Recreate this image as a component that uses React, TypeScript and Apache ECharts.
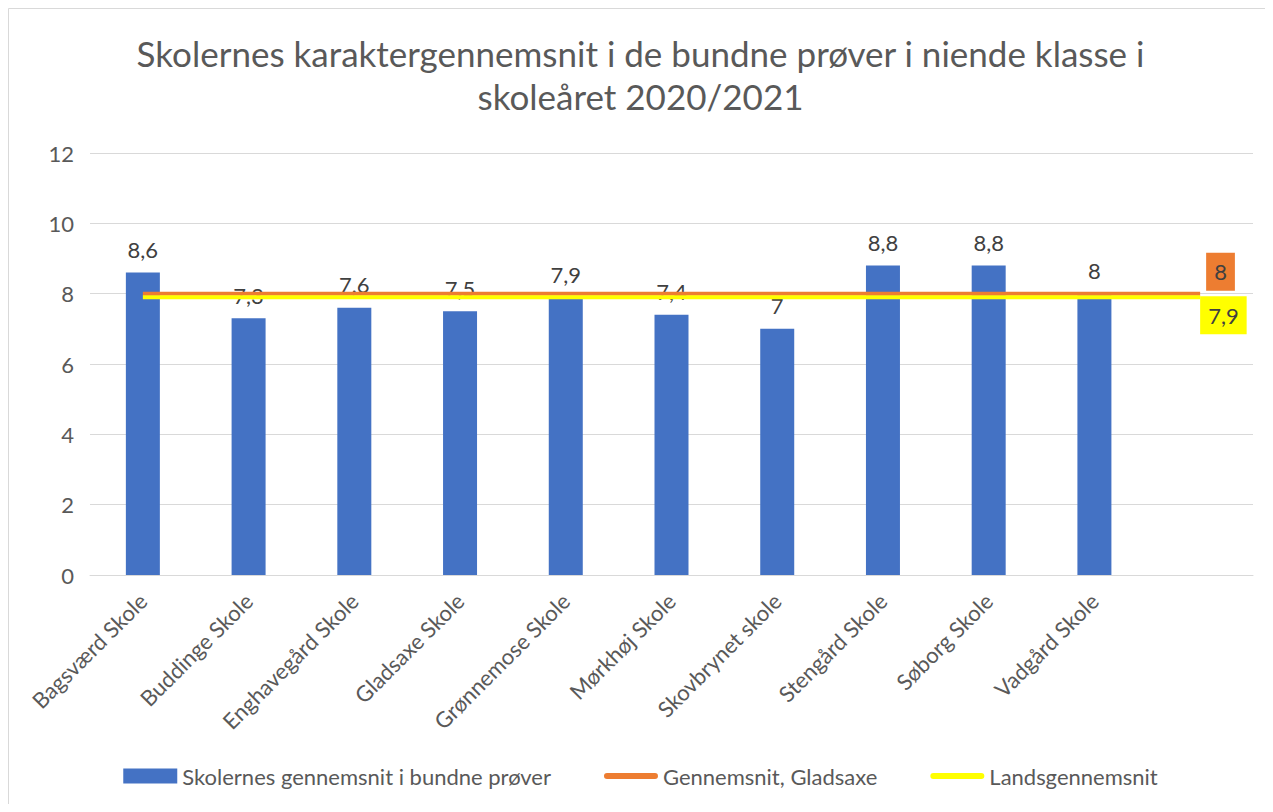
import React, { useEffect, useRef } from "react";
import * as echarts from "echarts";

const titleText = "Skolernes karaktergennemsnit i de bundne prøver i niende klasse i\nskoleåret 2020/2021";
const categories = [
  "Bagsværd Skole",
  "Buddinge Skole",
  "Enghavegård Skole",
  "Gladsaxe Skole",
  "Grønnemose Skole",
  "Mørkhøj Skole",
  "Skovbrynet skole",
  "Stengård Skole",
  "Søborg Skole",
  "Vadgård Skole",
  "",
];
const schoolValues = [8.6, 7.3, 7.6, 7.5, 7.9, 7.4, 7.0, 8.8, 8.8, 8.0];
const gladsaxeAvg = [8, 8, 8, 8, 8, 8, 8, 8, 8, 8, 8];
const nationalAvg = [7.9, 7.9, 7.9, 7.9, 7.9, 7.9, 7.9, 7.9, 7.9, 7.9, 7.9];
const seriesNames = [
  "Skolernes gennemsnit i bundne prøver",
  "Gennemsnit, Gladsaxe",
  "Landsgennemsnit",
];
const yMin = 0;
const yMax = 12;
const yInterval = 2;

const FONT = "Lato";
const fmt = (v: number) => String(v).replace(".", ",");
const lineIcon =
  "path://M3,0 h48 a3,3 0 0 1 0,6 h-48 a3,3 0 0 1 0,-6 z";

export default function App() {
  const ref = useRef<HTMLDivElement>(null);
  useEffect(() => {
    if (!ref.current) return;
    const chart = echarts.init(ref.current, undefined, { renderer: "svg" });
    const lastIdx = categories.length - 1;
    chart.setOption({
      animation: false,
      backgroundColor: "#ffffff",
      textStyle: { fontFamily: FONT },
      title: {
        text: titleText,
        left: "center",
        top: 18,
        textStyle: {
          fontSize: 35,
          fontWeight: "normal",
          color: "#595959",
          fontFamily: FONT,
          lineHeight: 43,
        },
      },
      graphic: [
        {
          type: "polyline",
          shape: { points: [[0.5, 800], [0.5, 0.5], [1270, 0.5]] },
          style: { stroke: "#d9d9d9", lineWidth: 1, fill: "none" },
          silent: true,
        },
      ],
      legend: {
        bottom: 12,
        left: "center",
        itemWidth: 54,
        itemHeight: 15,
        itemGap: 53,
        textStyle: { fontSize: 22, color: "#595959", fontFamily: FONT },
        data: [
          { name: seriesNames[0], icon: "rect" },
          { name: seriesNames[1], icon: lineIcon, itemStyle: { color: "#ED7D31" } },
          { name: seriesNames[2], icon: lineIcon, itemStyle: { color: "#FFFF00" } },
        ],
      },
      grid: { left: 82, right: 20, top: 145, bottom: 229, containLabel: false },
      xAxis: {
        type: "category",
        data: categories,
        axisLine: { lineStyle: { color: "#d9d9d9" } },
        axisTick: { show: false },
        axisLabel: {
          rotate: 45,
          fontSize: 22,
          color: "#595959",
          fontFamily: FONT,
          margin: 22,
          interval: 0,
        },
      },
      yAxis: {
        type: "value",
        min: yMin,
        max: yMax,
        interval: yInterval,
        axisLine: { show: false },
        axisTick: { show: false },
        splitLine: { lineStyle: { color: "#d9d9d9", width: 1 } },
        axisLabel: { fontSize: 22, color: "#595959", fontFamily: FONT, margin: 16 },
      },
      series: [
        {
          name: seriesNames[0],
          type: "bar",
          data: schoolValues,
          barWidth: 34,
          itemStyle: { color: "#4472C4" },
          z: 1,
          label: {
            show: true,
            position: "top",
            distance: 12,
            fontSize: 22,
            color: "#404040",
            fontFamily: FONT,
            formatter: (p: any) => fmt(p.value),
          },
        },
        {
          name: seriesNames[1],
          type: "line",
          data: gladsaxeAvg.map((v, i) =>
            i === lastIdx
              ? {
                  value: v,
                  label: {
                    show: true,
                    position: "right",
                    distance: 6,
                    offset: [0, -22],
                    backgroundColor: "#ED7D31",
                    padding: [8, 8, 8, 8],
                    fontSize: 22,
                    color: "#404040",
                    fontFamily: FONT,
                    formatter: (p: any) => fmt(p.value),
                  },
                }
              : v
          ),
          symbol: "circle",
          symbolSize: 0,
          showSymbol: true,
          lineStyle: { color: "#ED7D31", width: 4 },
          itemStyle: { color: "#ED7D31" },
          z: 3,
        },
        {
          name: seriesNames[2],
          type: "line",
          data: nationalAvg.map((v, i) =>
            i === lastIdx
              ? {
                  value: v,
                  label: {
                    show: true,
                    position: "right",
                    distance: 0,
                    offset: [0, 18],
                    backgroundColor: "#FFFF00",
                    padding: [8, 8, 8, 8],
                    fontSize: 22,
                    color: "#404040",
                    fontFamily: FONT,
                    formatter: (p: any) => fmt(p.value),
                  },
                }
              : v
          ),
          symbol: "circle",
          symbolSize: 0,
          showSymbol: true,
          lineStyle: { color: "#FFFF00", width: 4 },
          itemStyle: { color: "#FFFF00" },
          z: 4,
        },
      ],
    });
    return () => chart.dispose();
  }, []);
  return <div ref={ref} style={{ width: 1265, height: 796 }} />;
}
